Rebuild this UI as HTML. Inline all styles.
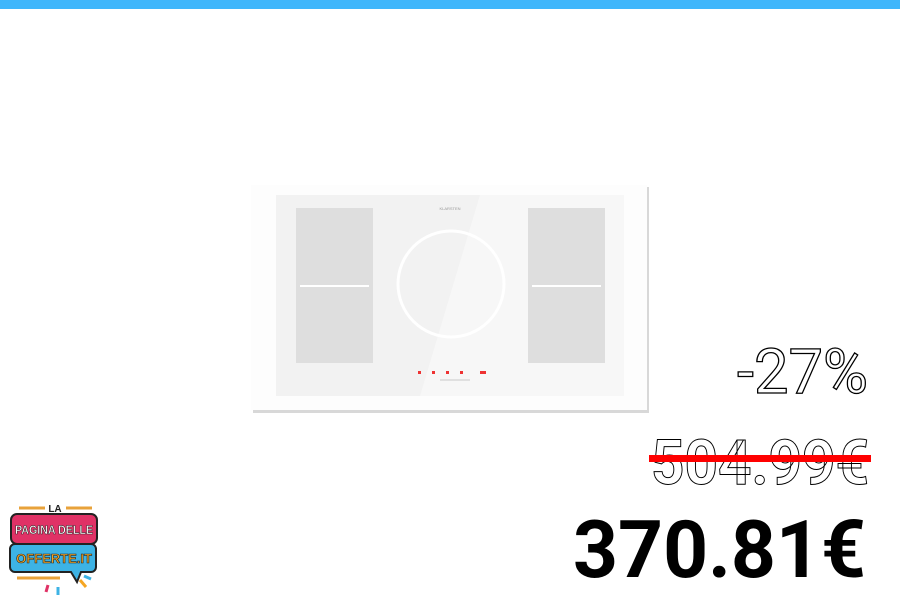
<!DOCTYPE html>
<html><head><meta charset="utf-8"><style>
html,body{margin:0;padding:0;background:#fff;width:900px;height:600px;overflow:hidden}
svg{display:block}
</style></head><body>
<svg width="900" height="600" viewBox="0 0 900 600">
<rect x="0" y="0" width="900" height="9" fill="#3fb6fb"/>
<g>
<rect x="253" y="187" width="396" height="226" fill="#d8d8d8"/>
<rect x="251" y="185" width="396" height="225" fill="#fdfdfd"/>
<rect x="276" y="195" width="348" height="201" fill="#f2f2f2"/>
<polygon points="480,195 624,195 624,396 420,396" fill="#f7f7f7"/>
<rect x="296" y="208" width="77" height="155" fill="#dedede"/>
<rect x="528" y="208" width="77" height="155" fill="#dedede"/>
<line x1="300" y1="286" x2="369" y2="286" stroke="#fff" stroke-width="2"/>
<line x1="532" y1="286" x2="601" y2="286" stroke="#fff" stroke-width="2"/>
<circle cx="451" cy="284" r="53" fill="none" stroke="#fff" stroke-width="3"/>
<text x="450" y="210" font-family="Liberation Sans" font-size="4" fill="#999" text-anchor="middle">KLARSTEN</text>
<g fill="#e33">
<rect x="418" y="371" width="3" height="3"/><rect x="432" y="371" width="3" height="3"/><rect x="446" y="371" width="3" height="3"/><rect x="460" y="371" width="3" height="3"/><rect x="480" y="371" width="6" height="3"/>
</g>
<line x1="440" y1="380" x2="470" y2="380" stroke="#bbb" stroke-width="0.7"/>
</g>
<g font-family="Roboto, 'Liberation Sans', sans-serif">
<text x="737" y="393" font-size="62" textLength="131" lengthAdjust="spacingAndGlyphs" fill="#fff" stroke="#000" stroke-width="1.3">-27%</text>
<text x="651" y="484" font-size="62" font-weight="bold" textLength="218" lengthAdjust="spacingAndGlyphs" fill="#fff" stroke="#000" stroke-width="1">504.99€</text>
<rect x="649" y="455" width="222" height="7" fill="#f00"/>
<text x="573" y="577" font-size="80" font-weight="bold" textLength="293" lengthAdjust="spacingAndGlyphs" fill="#000">370.81€</text>
</g>
<g>
<line x1="19" y1="508" x2="45" y2="508" stroke="#e8a23a" stroke-width="3"/>
<line x1="66" y1="508" x2="92" y2="508" stroke="#e8a23a" stroke-width="3"/>
<text x="55" y="512" font-family="Liberation Sans" font-weight="bold" font-size="10" text-anchor="middle" fill="#222">LA</text>
<rect x="11" y="514" width="86" height="30" rx="6" fill="#e03266" stroke="#222" stroke-width="2"/>
<text x="54" y="534" font-family="Liberation Sans" font-weight="bold" font-size="12" text-anchor="middle" fill="#fff" stroke="#222" stroke-width="0.5" textLength="78" lengthAdjust="spacingAndGlyphs">PAGINA DELLE</text>
<path d="M15 544 h76 a5 5 0 0 1 5 5 v18 a5 5 0 0 1 -5 5 h-10 l-4 10 l-6 -10 h-56 a5 5 0 0 1 -5 -5 v-18 a5 5 0 0 1 5 -5z" fill="#3db3e5" stroke="#222" stroke-width="2"/>
<text x="54" y="563" font-family="Liberation Sans" font-weight="bold" font-size="13" text-anchor="middle" fill="#f5a623" stroke="#222" stroke-width="0.6">OFFERTE.IT</text>
<line x1="17" y1="578" x2="60" y2="578" stroke="#e8a23a" stroke-width="3"/>
<g stroke-width="3"><line x1="48" y1="585" x2="46" y2="592" stroke="#e03266"/><line x1="58" y1="587" x2="58" y2="595" stroke="#3db3e5"/><line x1="80" y1="580" x2="86" y2="587" stroke="#f5a623"/><line x1="84" y1="576" x2="91" y2="579" stroke="#3db3e5"/></g>
</g>
</svg>
</body></html>
